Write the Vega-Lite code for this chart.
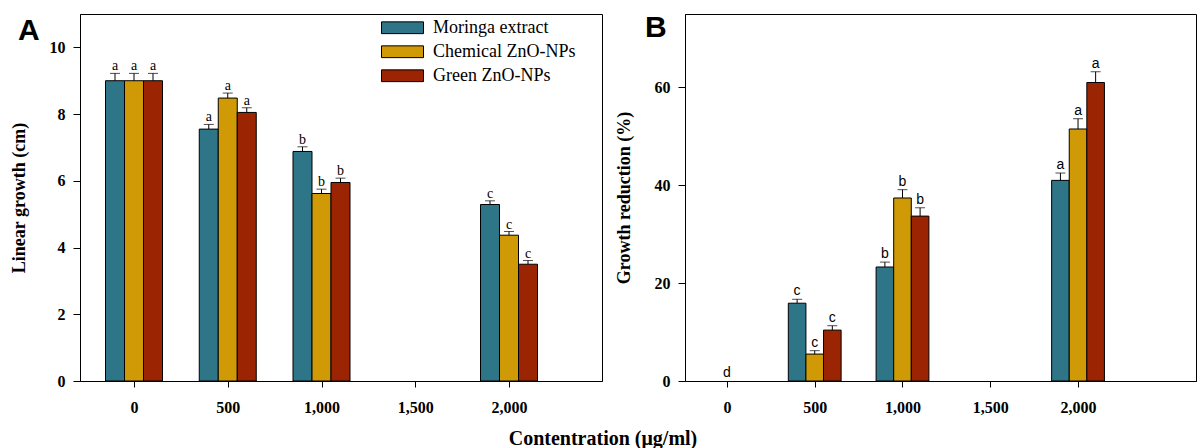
{
  "$schema": "https://vega.github.io/schema/vega-lite/v6.json",
  "background": "white",
  "padding": {"left": 9, "top": 12, "right": 0, "bottom": 0},
  "spacing": 11,
  "title": {"text": "Contentration (μg/ml)", "orient": "bottom", "anchor": "middle", "offset": 13, "font": "Liberation Serif", "fontSize": 20, "fontWeight": "bold", "color": "black"},
  "datasets": {
    "a": [
      {"conc": 0, "series": "Moringa extract", "value": 9.0, "upper": 9.22, "label": "a"},
      {"conc": 0, "series": "Chemical ZnO-NPs", "value": 9.0, "upper": 9.22, "label": "a"},
      {"conc": 0, "series": "Green ZnO-NPs", "value": 9.0, "upper": 9.22, "label": "a"},
      {"conc": 500, "series": "Moringa extract", "value": 7.55, "upper": 7.69, "label": "a"},
      {"conc": 500, "series": "Chemical ZnO-NPs", "value": 8.48, "upper": 8.63, "label": "a"},
      {"conc": 500, "series": "Green ZnO-NPs", "value": 8.05, "upper": 8.19, "label": "a"},
      {"conc": 1000, "series": "Moringa extract", "value": 6.88, "upper": 7.02, "label": "b"},
      {"conc": 1000, "series": "Chemical ZnO-NPs", "value": 5.62, "upper": 5.75, "label": "b"},
      {"conc": 1000, "series": "Green ZnO-NPs", "value": 5.95, "upper": 6.08, "label": "b"},
      {"conc": 2000, "series": "Moringa extract", "value": 5.29, "upper": 5.4, "label": "c"},
      {"conc": 2000, "series": "Chemical ZnO-NPs", "value": 4.37, "upper": 4.48, "label": "c"},
      {"conc": 2000, "series": "Green ZnO-NPs", "value": 3.5, "upper": 3.61, "label": "c"}
    ],
    "b": [
      {"conc": 0, "series": "Moringa extract", "value": 0, "upper": 0, "label": ""},
      {"conc": 0, "series": "Chemical ZnO-NPs", "value": 0, "upper": 0, "label": "d"},
      {"conc": 0, "series": "Green ZnO-NPs", "value": 0, "upper": 0, "label": ""},
      {"conc": 500, "series": "Moringa extract", "value": 15.9, "upper": 16.7, "label": "c"},
      {"conc": 500, "series": "Chemical ZnO-NPs", "value": 5.5, "upper": 6.2, "label": "c"},
      {"conc": 500, "series": "Green ZnO-NPs", "value": 10.4, "upper": 11.3, "label": "c"},
      {"conc": 1000, "series": "Moringa extract", "value": 23.3, "upper": 24.3, "label": "b"},
      {"conc": 1000, "series": "Chemical ZnO-NPs", "value": 37.4, "upper": 39.1, "label": "b"},
      {"conc": 1000, "series": "Green ZnO-NPs", "value": 33.7, "upper": 35.4, "label": "b"},
      {"conc": 2000, "series": "Moringa extract", "value": 41.0, "upper": 42.5, "label": "a"},
      {"conc": 2000, "series": "Chemical ZnO-NPs", "value": 51.5, "upper": 53.6, "label": "a"},
      {"conc": 2000, "series": "Green ZnO-NPs", "value": 61.0, "upper": 63.2, "label": "a"}
    ]
  },
  "hconcat": [
    {
      "width": 522,
      "height": 367,
      "data": {"name": "a"},
      "title": {"text": "A", "anchor": "start", "frame": "group", "offset": -32, "dx": -62, "dy": 0, "baseline": "top", "font": "Liberation Sans", "fontSize": 30, "fontWeight": "bold", "color": "black"},
      "encoding": {
        "x": {"field": "conc", "type": "quantitative", "scale": {"domain": [-288, 2496], "nice": false, "zero": false, "padding": 0}, "axis": {"values": [0, 500, 1000, 1500, 2000], "format": ",.0f", "title": null}},
        "y": {"field": "value", "type": "quantitative", "scale": {"domain": [0, 11], "nice": false}, "axis": {"values": [0, 2, 4, 6, 8, 10], "title": "Linear growth (cm)", "titlePadding": 21}}
      },
      "layer": [
        {"transform": [{"filter": "datum.series === 'Moringa extract'"}], "layer": [
          {"mark": {"type": "bar", "xOffset": -19, "width": 19, "stroke": "black", "strokeWidth": 1},
           "encoding": {"color": {"field": "series", "type": "nominal", "scale": {"domain": ["Moringa extract", "Chemical ZnO-NPs", "Green ZnO-NPs"], "range": ["#2e7588", "#cf9a06", "#9b2403"]},
             "legend": {"title": null, "orient": "none", "legendX": 301, "legendY": 2, "padding": 0, "symbolType": "M-1,-0.28H1V0.28H-1Z", "symbolSize": 1764, "symbolStrokeColor": "black", "symbolStrokeWidth": 1, "symbolOpacity": 1, "labelFont": "Liberation Serif", "labelFontSize": 18, "labelColor": "black", "labelOffset": 9, "clipHeight": 23.5, "rowPadding": 0}}}},
          {"transform": [{"filter": "datum.upper > datum.value"}], "mark": {"type": "rule", "xOffset": -19, "color": "black"}, "encoding": {"y2": {"field": "upper"}}},
          {"transform": [{"filter": "datum.upper > datum.value"}], "mark": {"type": "tick", "orient": "horizontal", "size": 10, "thickness": 1, "xOffset": -19, "color": "black"}, "encoding": {"y": {"field": "upper", "type": "quantitative", "axis": {"title": "Linear growth (cm)"}}}},
          {"transform": [{"filter": "datum.label !== ''"}], "mark": {"type": "text", "xOffset": -19, "dy": -3, "baseline": "alphabetic", "font": "Liberation Serif", "fontSize": 14, "color": "black"}, "encoding": {"y": {"field": "upper", "type": "quantitative", "axis": {"title": "Linear growth (cm)"}}, "text": {"field": "label"}}}
        ]},
        {"transform": [{"filter": "datum.series === 'Chemical ZnO-NPs'"}], "layer": [
          {"mark": {"type": "bar", "xOffset": 0, "width": 19, "stroke": "black", "strokeWidth": 1},
           "encoding": {"color": {"field": "series", "type": "nominal", "scale": {"domain": ["Moringa extract", "Chemical ZnO-NPs", "Green ZnO-NPs"], "range": ["#2e7588", "#cf9a06", "#9b2403"]},
             "legend": {"title": null, "orient": "none", "legendX": 301, "legendY": 2, "padding": 0, "symbolType": "M-1,-0.28H1V0.28H-1Z", "symbolSize": 1764, "symbolStrokeColor": "black", "symbolStrokeWidth": 1, "symbolOpacity": 1, "labelFont": "Liberation Serif", "labelFontSize": 18, "labelColor": "black", "labelOffset": 9, "clipHeight": 23.5, "rowPadding": 0}}}},
          {"transform": [{"filter": "datum.upper > datum.value"}], "mark": {"type": "rule", "xOffset": 0, "color": "black"}, "encoding": {"y2": {"field": "upper"}}},
          {"transform": [{"filter": "datum.upper > datum.value"}], "mark": {"type": "tick", "orient": "horizontal", "size": 10, "thickness": 1, "xOffset": 0, "color": "black"}, "encoding": {"y": {"field": "upper", "type": "quantitative", "axis": {"title": "Linear growth (cm)"}}}},
          {"transform": [{"filter": "datum.label !== ''"}], "mark": {"type": "text", "xOffset": 0, "dy": -3, "baseline": "alphabetic", "font": "Liberation Serif", "fontSize": 14, "color": "black"}, "encoding": {"y": {"field": "upper", "type": "quantitative", "axis": {"title": "Linear growth (cm)"}}, "text": {"field": "label"}}}
        ]},
        {"transform": [{"filter": "datum.series === 'Green ZnO-NPs'"}], "layer": [
          {"mark": {"type": "bar", "xOffset": 19, "width": 19, "stroke": "black", "strokeWidth": 1},
           "encoding": {"color": {"field": "series", "type": "nominal", "scale": {"domain": ["Moringa extract", "Chemical ZnO-NPs", "Green ZnO-NPs"], "range": ["#2e7588", "#cf9a06", "#9b2403"]},
             "legend": {"title": null, "orient": "none", "legendX": 301, "legendY": 2, "padding": 0, "symbolType": "M-1,-0.28H1V0.28H-1Z", "symbolSize": 1764, "symbolStrokeColor": "black", "symbolStrokeWidth": 1, "symbolOpacity": 1, "labelFont": "Liberation Serif", "labelFontSize": 18, "labelColor": "black", "labelOffset": 9, "clipHeight": 23.5, "rowPadding": 0}}}},
          {"transform": [{"filter": "datum.upper > datum.value"}], "mark": {"type": "rule", "xOffset": 19, "color": "black"}, "encoding": {"y2": {"field": "upper"}}},
          {"transform": [{"filter": "datum.upper > datum.value"}], "mark": {"type": "tick", "orient": "horizontal", "size": 10, "thickness": 1, "xOffset": 19, "color": "black"}, "encoding": {"y": {"field": "upper", "type": "quantitative", "axis": {"title": "Linear growth (cm)"}}}},
          {"transform": [{"filter": "datum.label !== ''"}], "mark": {"type": "text", "xOffset": 19, "dy": -3, "baseline": "alphabetic", "font": "Liberation Serif", "fontSize": 14, "color": "black"}, "encoding": {"y": {"field": "upper", "type": "quantitative", "axis": {"title": "Linear growth (cm)"}}, "text": {"field": "label"}}}
        ]}
      ]
    },
    {
      "width": 511,
      "height": 367,
      "data": {"name": "b"},
      "title": {"text": "B", "anchor": "start", "frame": "group", "offset": -29, "dx": -40, "dy": 0, "baseline": "top", "font": "Liberation Sans", "fontSize": 30, "fontWeight": "bold", "color": "black"},
      "encoding": {
        "x": {"field": "conc", "type": "quantitative", "scale": {"domain": [-239, 2672], "nice": false, "zero": false, "padding": 0}, "axis": {"values": [0, 500, 1000, 1500, 2000], "format": ",.0f", "title": null}},
        "y": {"field": "value", "type": "quantitative", "scale": {"domain": [0, 75], "nice": false}, "axis": {"values": [0, 20, 40, 60], "title": "Growth reduction (%)", "titlePadding": 21}}
      },
      "layer": [
        {"transform": [{"filter": "datum.series === 'Moringa extract'"}], "layer": [
          {"transform": [{"filter": "datum.value > 0"}], "mark": {"type": "bar", "xOffset": -17.6, "width": 17.6, "stroke": "black", "strokeWidth": 1},
           "encoding": {"color": {"field": "series", "type": "nominal", "scale": {"domain": ["Moringa extract", "Chemical ZnO-NPs", "Green ZnO-NPs"], "range": ["#2e7588", "#cf9a06", "#9b2403"]},
             "legend": {"title": null, "orient": "none", "legendX": 14, "legendY": 4, "padding": 0, "symbolType": "M-1,-0.28H1V0.28H-1Z", "symbolSize": 1764, "symbolStrokeColor": "black", "symbolStrokeWidth": 1, "symbolOpacity": 1, "labelFont": "Liberation Serif", "labelFontSize": 18, "labelColor": "black", "labelOffset": 9, "clipHeight": 23.5, "rowPadding": 0}}}},
          {"transform": [{"filter": "datum.upper > datum.value"}], "mark": {"type": "rule", "xOffset": -17.6, "color": "black"}, "encoding": {"y2": {"field": "upper"}}},
          {"transform": [{"filter": "datum.upper > datum.value"}], "mark": {"type": "tick", "orient": "horizontal", "size": 10, "thickness": 1, "xOffset": -17.6, "color": "black"}, "encoding": {"y": {"field": "upper", "type": "quantitative", "axis": {"title": "Growth reduction (%)"}}}},
          {"transform": [{"filter": "datum.label !== ''"}], "mark": {"type": "text", "xOffset": -17.6, "dy": -4, "baseline": "alphabetic", "font": "Liberation Sans", "fontSize": 14, "color": "black"}, "encoding": {"y": {"field": "upper", "type": "quantitative", "axis": {"title": "Growth reduction (%)"}}, "text": {"field": "label"}}}
        ]},
        {"transform": [{"filter": "datum.series === 'Chemical ZnO-NPs'"}], "layer": [
          {"transform": [{"filter": "datum.value > 0"}], "mark": {"type": "bar", "xOffset": 0, "width": 17.6, "stroke": "black", "strokeWidth": 1},
           "encoding": {"color": {"field": "series", "type": "nominal", "scale": {"domain": ["Moringa extract", "Chemical ZnO-NPs", "Green ZnO-NPs"], "range": ["#2e7588", "#cf9a06", "#9b2403"]},
             "legend": {"title": null, "orient": "none", "legendX": 14, "legendY": 4, "padding": 0, "symbolType": "M-1,-0.28H1V0.28H-1Z", "symbolSize": 1764, "symbolStrokeColor": "black", "symbolStrokeWidth": 1, "symbolOpacity": 1, "labelFont": "Liberation Serif", "labelFontSize": 18, "labelColor": "black", "labelOffset": 9, "clipHeight": 23.5, "rowPadding": 0}}}},
          {"transform": [{"filter": "datum.upper > datum.value"}], "mark": {"type": "rule", "xOffset": 0, "color": "black"}, "encoding": {"y2": {"field": "upper"}}},
          {"transform": [{"filter": "datum.upper > datum.value"}], "mark": {"type": "tick", "orient": "horizontal", "size": 10, "thickness": 1, "xOffset": 0, "color": "black"}, "encoding": {"y": {"field": "upper", "type": "quantitative", "axis": {"title": "Growth reduction (%)"}}}},
          {"transform": [{"filter": "datum.label !== ''"}], "mark": {"type": "text", "xOffset": 0, "dy": -4, "baseline": "alphabetic", "font": "Liberation Sans", "fontSize": 14, "color": "black"}, "encoding": {"y": {"field": "upper", "type": "quantitative", "axis": {"title": "Growth reduction (%)"}}, "text": {"field": "label"}}}
        ]},
        {"transform": [{"filter": "datum.series === 'Green ZnO-NPs'"}], "layer": [
          {"transform": [{"filter": "datum.value > 0"}], "mark": {"type": "bar", "xOffset": 17.6, "width": 17.6, "stroke": "black", "strokeWidth": 1},
           "encoding": {"color": {"field": "series", "type": "nominal", "scale": {"domain": ["Moringa extract", "Chemical ZnO-NPs", "Green ZnO-NPs"], "range": ["#2e7588", "#cf9a06", "#9b2403"]},
             "legend": {"title": null, "orient": "none", "legendX": 14, "legendY": 4, "padding": 0, "symbolType": "M-1,-0.28H1V0.28H-1Z", "symbolSize": 1764, "symbolStrokeColor": "black", "symbolStrokeWidth": 1, "symbolOpacity": 1, "labelFont": "Liberation Serif", "labelFontSize": 18, "labelColor": "black", "labelOffset": 9, "clipHeight": 23.5, "rowPadding": 0}}}},
          {"transform": [{"filter": "datum.upper > datum.value"}], "mark": {"type": "rule", "xOffset": 17.6, "color": "black"}, "encoding": {"y2": {"field": "upper"}}},
          {"transform": [{"filter": "datum.upper > datum.value"}], "mark": {"type": "tick", "orient": "horizontal", "size": 10, "thickness": 1, "xOffset": 17.6, "color": "black"}, "encoding": {"y": {"field": "upper", "type": "quantitative", "axis": {"title": "Growth reduction (%)"}}}},
          {"transform": [{"filter": "datum.label !== ''"}], "mark": {"type": "text", "xOffset": 17.6, "dy": -4, "baseline": "alphabetic", "font": "Liberation Sans", "fontSize": 14, "color": "black"}, "encoding": {"y": {"field": "upper", "type": "quantitative", "axis": {"title": "Growth reduction (%)"}}, "text": {"field": "label"}}}
        ]}
      ]
    }
  ],
  "config": {
    "view": {"stroke": "black", "strokeWidth": 1},
    "axis": {"grid": false, "domainColor": "black", "tickColor": "black", "labelFont": "Liberation Serif", "labelFontWeight": "bold", "labelFontSize": 16, "labelColor": "black", "titleFont": "Liberation Serif", "titleFontWeight": "bold", "titleFontSize": 18, "titleColor": "black"},
    "axisX": {"tickSize": 6, "labelPadding": 12},
    "axisY": {"tickSize": 7, "labelPadding": 8}
  }
}
